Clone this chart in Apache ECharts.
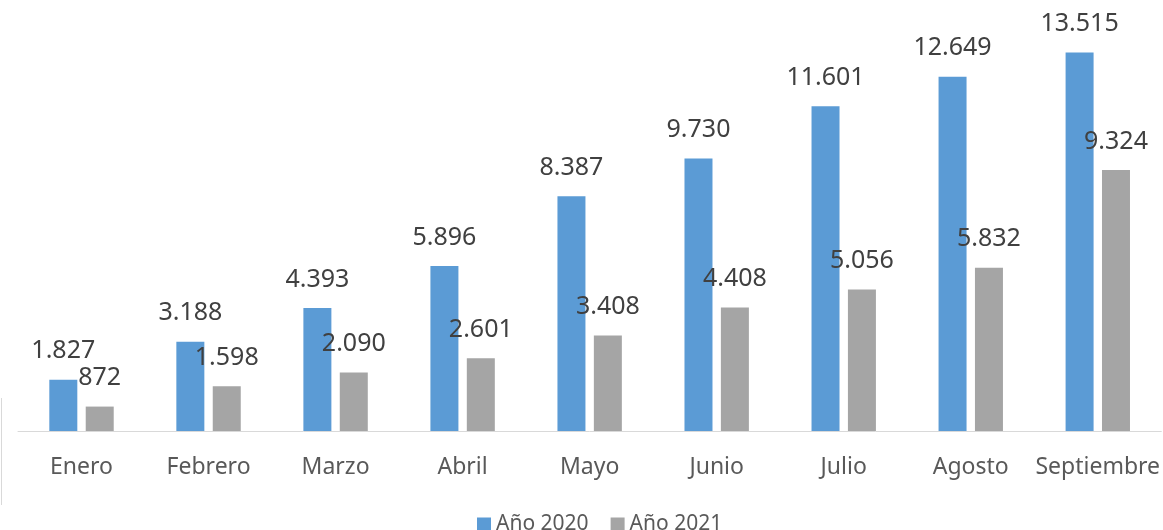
<!DOCTYPE html>
<html>
<head>
<meta charset="utf-8">
<script src="https://cdn.jsdelivr.net/npm/echarts@6/dist/echarts.min.js"></script>
<style>
  html, body { margin: 0; padding: 0; background: #fff; }
  #chart { width: 1163px; height: 530px; }
</style>
</head>
<body>
<div id="chart"></div>
<script>
// meses
var months = ['Enero', 'Febrero', 'Marzo', 'Abril', 'Mayo', 'Junio', 'Julio', 'Agosto', 'Septiembre'];
// valores por año
var year2020 = [1827, 3188, 4393, 5896, 8387, 9730, 11601, 12649, 13515];
var year2021 = [872, 1598, 2090, 2601, 3408, 4408, 5056, 5832, 9324];
var seriesNames = ['Año 2020', 'Año 2021'];

// formato con punto de miles
function fmt(v) {
  return String(v).replace(/\B(?=(\d{3})+(?!\d))/g, '.');
}

var chart = echarts.init(document.getElementById('chart'));
var labelStyle = {
  show: true,
  position: 'top',
  distance: 16,
  color: '#404040',
  fontFamily: 'Noto Sans',
  fontSize: 25,
  formatter: function (p) { return fmt(p.value); }
};
var option = {
  animation: false,
  color: ['#5B9BD5', '#A5A5A5'],
  grid: { left: 18, right: 0, top: 39, bottom: 99 },
  legend: {
    data: seriesNames,
    left: 472,
    top: 509,
    icon: 'rect',
    itemWidth: 14,
    itemHeight: 14,
    itemGap: 22,
    textStyle: { color: '#595959', fontFamily: 'Noto Sans', fontSize: 21 }
  },
  xAxis: {
    type: 'category',
    data: months,
    axisTick: { show: false },
    axisLine: { lineStyle: { color: '#D9D9D9', width: 1 } },
    axisLabel: { color: '#595959', fontFamily: 'Noto Sans', fontSize: 23, margin: 25, interval: 0 }
  },
  yAxis: {
    type: 'value',
    min: 0,
    max: 14000,
    show: false,
    splitLine: { show: false }
  },
  series: [
    { name: seriesNames[0], type: 'bar', data: year2020, barWidth: 28, barGap: '30%', label: labelStyle },
    { name: seriesNames[1], type: 'bar', data: year2021, barWidth: 28, barGap: '30%', label: labelStyle }
  ],
  graphic: [{
    type: 'line',
    shape: { x1: 1.5, y1: 398, x2: 1.5, y2: 505 },
    style: { stroke: '#D9D9D9', lineWidth: 1 }
  }]
};
chart.setOption(option);
</script>
</body>
</html>
